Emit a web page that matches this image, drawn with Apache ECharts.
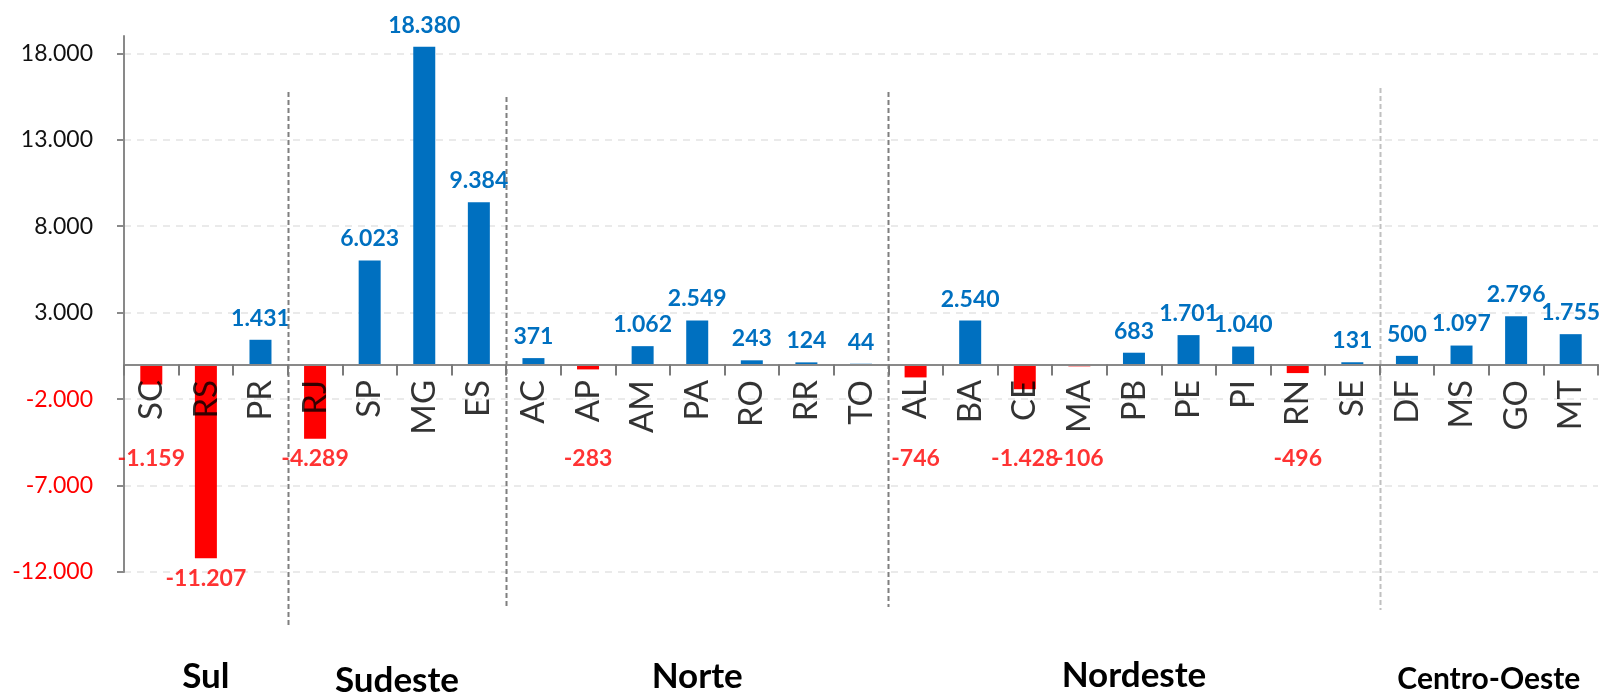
<!DOCTYPE html>
<html>
<head>
<meta charset="utf-8">
<script src="https://cdn.jsdelivr.net/npm/echarts@6/dist/echarts.min.js"></script>
<style>
  html, body { margin: 0; padding: 0; background: #fff; }
  #chart { width: 1599px; height: 697px; }
</style>
</head>
<body>
<div id="chart"></div>
<script>
// states, grouped by region (left to right)
const states = ['SC', 'RS', 'PR', 'RJ', 'SP', 'MG', 'ES', 'AC', 'AP', 'AM', 'PA', 'RO', 'RR', 'TO',
  'AL', 'BA', 'CE', 'MA', 'PB', 'PE', 'PI', 'RN', 'SE', 'DF', 'MS', 'GO', 'MT'];
const values = [-1159, -11207, 1431, -4289, 6023, 18380, 9384, 371, -283, 1062, 2549, 243, 124, 44,
  -746, 2540, -1428, -106, 683, 1701, 1040, -496, 131, 500, 1097, 2796, 1755];

const regions = ['Sul', 'Sudeste', 'Norte', 'Nordeste', 'Centro-Oeste'];
const regionSizes = [3, 4, 7, 9, 4];

const yTicks = [-12000, -7000, -2000, 3000, 8000, 13000, 18000];

const BLUE = '#0070C0';
const RED = '#FF0000';
const FONT = 'Lato';

// 1.234 style thousands separator
const fmt = (v) => {
  const s = String(Math.abs(v)).replace(/\B(?=(\d{3})+(?!\d))/g, '.');
  return (v < 0 ? '-' : '') + s;
};

const chart = echarts.init(document.getElementById('chart'));

// negative labels sit below the category names (or below the bar if it is longer)
const negLabelFloor = -4300;

const option = {
  animation: false,
  grid: { left: 124, right: 1, top: 36, bottom: 125, containLabel: false },
  xAxis: {
    type: 'category',
    data: states,
    position: 'bottom',
    offset: 0,
    z: 10,
    axisLine: { onZero: false, lineStyle: { color: '#898989', width: 2 } },
    axisTick: { show: true, interval: 0, length: 11, lineStyle: { color: '#7a7a7a', width: 2 } },
    axisLabel: { show: false },
    splitLine: { show: false }
  },
  yAxis: {
    type: 'value',
    min: -12000,
    max: 19000,
    axisLine: { show: true, lineStyle: { color: '#898989', width: 2 } },
    axisTick: { show: true, length: 7, customValues: yTicks, lineStyle: { color: '#898989', width: 2 } },
    axisLabel: {
      customValues: yTicks,
      margin: 31,
      fontFamily: FONT, fontSize: 23,
      formatter: (v) => fmt(v),
      color: (v) => (Number(v) < 0 ? RED : '#111')
    },
    splitLine: { show: true, lineStyle: { color: '#e3e3e3', type: [7, 6], width: 1.5 } }
  },
  series: [
    {
      type: 'bar',
      data: values,
      barWidth: 22,
      itemStyle: { color: (p) => (p.value < 0 ? RED : BLUE) },
      label: {
        show: true,
        position: 'top',
        distance: 10,
        fontFamily: FONT, fontWeight: 700, fontSize: 23, color: BLUE,
        formatter: (p) => (p.value < 0 ? '' : fmt(p.value))
      },
      z: 3
    },
    {
      // invisible anchors for the red labels
      type: 'scatter',
      data: values.map((v) => (v < 0 ? Math.min(v, negLabelFloor) : '-')),
      symbolSize: 1,
      itemStyle: { color: 'rgba(0,0,0,0)' },
      label: {
        show: true,
        position: 'bottom',
        distance: 8,
        fontFamily: FONT, fontWeight: 700, fontSize: 23, color: RED,
        formatter: (p) => fmt(values[p.dataIndex])
      },
      silent: true,
      z: 4
    },
    {
      // state names, hanging from the zero line
      type: 'scatter',
      data: states.map(() => 0),
      symbolSize: 1,
      itemStyle: { color: 'rgba(0,0,0,0)' },
      label: {
        show: true,
        position: 'bottom',
        distance: 27,
        offset: [12, 0], // offset is in the rotated frame: +x is downwards here
        rotate: 90,
        align: 'right',
        verticalAlign: 'middle',
        fontFamily: FONT, fontSize: 33, color: '#000',
        formatter: (p) => states[p.dataIndex]
      },
      silent: true,
      z: 6
    }
  ]
};

chart.setOption(option);

// move the category axis (line and ticks) up to the zero line
const zeroY = chart.convertToPixel({ yAxisIndex: 0 }, 0);
const bottomY = chart.convertToPixel({ yAxisIndex: 0 }, -12000);
chart.setOption({ xAxis: { offset: -(bottomY - zeroY) } });

// separators between regions and region names under the chart
const catX = (i) => chart.convertToPixel({ xAxisIndex: 0 }, i);
const step = catX(1) - catX(0);
const sepExtent = [[92, 625], [97, 607], [92, 607], [88, 610]];
const sepColor = ['#7f7f7f', '#7f7f7f', '#7f7f7f', '#c0c0c0'];
const regionFont = [35, 35, 35, 35, 30];
const regionY = [677, 681, 677, 676, 679];

const graphics = [];
let start = 0;
regions.forEach((name, r) => {
  const end = start + regionSizes[r] - 1;
  const cx = (catX(start) + catX(end)) / 2;
  graphics.push({
    type: 'text',
    x: cx,
    y: regionY[r],
    style: {
      text: name,
      fontFamily: FONT, fontWeight: 'bold', fontSize: regionFont[r],
      fill: '#000', align: 'center', verticalAlign: 'middle'
    }
  });
  if (r < regions.length - 1) {
    const bx = Math.round(catX(end) + step / 2) + 0.5;
    graphics.push({
      type: 'line',
      shape: { x1: bx, y1: sepExtent[r][0], x2: bx, y2: sepExtent[r][1] },
      style: { stroke: sepColor[r], lineWidth: 2, lineDash: [5, 3] },
      z: 10
    });
  }
  start = end + 1;
});

chart.setOption({ graphic: graphics });
</script>
</body>
</html>
